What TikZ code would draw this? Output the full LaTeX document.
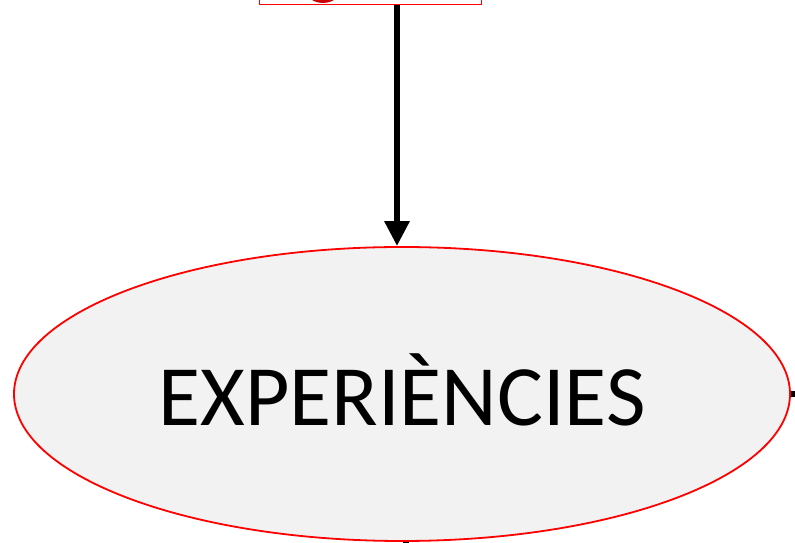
\documentclass[tikz,border=0pt]{standalone}
\usepackage{fontspec}
\setmainfont{Carlito}
\usetikzlibrary{shapes.geometric,arrows.meta,backgrounds}
\tikzset{
  redbox/.style={draw=red, line width=1.2pt, fill=white},
  bigell/.style={ellipse, draw=red, line width=1.8pt, fill=black!5, minimum width=776pt, minimum height=294pt, inner sep=0pt},
  bigtext/.style={font=\fontsize{86}{92}\selectfont},
  link/.style={line width=6pt},
  linkarrow/.style={line width=6pt, -{Triangle[length=25pt,width=24pt]}},
}
\begin{document}
\begin{tikzpicture}[x=1pt,y=1pt]
\useasboundingbox (0,0) rectangle (795,543);
\clip (0,0) rectangle (795,543);
\node[redbox, minimum width=222pt, minimum height=60pt, inner sep=0pt, anchor=south west] (top) at (259,538) {};
\fill[red!80!black] (323,562) circle (22pt);
\node[bigell] (exp) at (402,149) {};
\node[bigtext] (label) at (402,153) {EXPERIÈNCIES};
\coordinate (right) at (800,149);
\coordinate (below) at (406,-6);
\begin{scope}[on background layer]
\draw[link] (exp.center) -- (right);
\draw[link] (406,149) -- (below);
\end{scope}
\draw[linkarrow] (397,538) -- (exp.north -| 397,0);
\end{tikzpicture}
\end{document}
